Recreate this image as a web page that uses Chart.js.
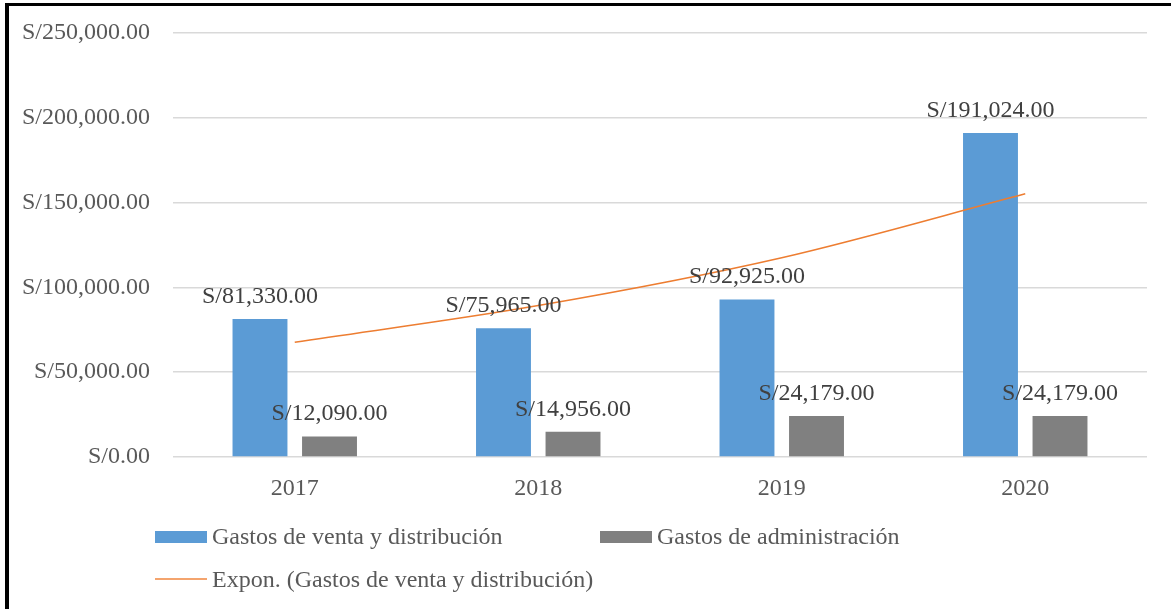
<!DOCTYPE html>
<html>
<head>
<meta charset="utf-8">
<script src="https://cdn.jsdelivr.net/npm/chart.js@4"></script>
<style>
  html, body { margin: 0; padding: 0; background: #fff; }
  #wrap { position: relative; width: 1171px; height: 609px; overflow: hidden; }
  #frame { position: absolute; left: 5px; top: 3px; right: -10px; bottom: -10px;
           border-left: 4px solid #000; border-top: 3px solid #000; pointer-events: none; }
  .legend-item { position: absolute; height: 24px; line-height: 24px; white-space: nowrap;
                 font: 24px "Liberation Serif", "Times New Roman", serif; color: #595959; }
  .legend-item .swatch { position: absolute; left: 0; width: 52px; }
  .legend-item span.txt { position: absolute; left: 57px; }
</style>
</head>
<body>
<div id="wrap">
  <canvas id="chart" width="1171" height="609"></canvas>
  <div id="frame"></div>
  <div id="legend"></div>
</div>
<script>
const years = ['2017', '2018', '2019', '2020'];
const ventaDistribucion = [81330, 75965, 92925, 191024];
const administracion = [12090, 14956, 24179, 24179];
// at each year
const exponVenta = [67700, 89300, 117500, 155200];
const yTicks = [0, 50000, 100000, 150000, 200000, 250000];

const labelVenta = 'Gastos de venta y distribución';
const labelAdmin = 'Gastos de administración';
const labelExpon = 'Expon. (Gastos de venta y distribución)';

const FONT = '"Liberation Serif", "Times New Roman", serif';

function money(v) {
  return 'S/' + v.toLocaleString('en-US', { minimumFractionDigits: 2, maximumFractionDigits: 2 });
}

const barLabels = {
  id: 'barLabels',
  afterDatasetsDraw(chart) {
    const ctx = chart.ctx;
    ctx.save();
    ctx.font = '24px ' + FONT;
    ctx.fillStyle = '#404040';
    ctx.textAlign = 'center';
    ctx.textBaseline = 'alphabetic';
    chart.data.datasets.forEach((ds, i) => {
      if (ds.type !== 'bar') return;
      chart.getDatasetMeta(i).data.forEach((bar, j) => {
        ctx.fillText(money(ds.data[j]), bar.x, bar.y - 16);
      });
    });
    ctx.restore();
  }
};

const chart = new Chart(document.getElementById('chart'), {
  data: {
    labels: years,
    datasets: [
      {
        type: 'line',
        label: labelExpon,
        data: exponVenta,
        borderColor: '#ED7D31',
        borderWidth: 1.5,
        pointRadius: 0,
        cubicInterpolationMode: 'monotone',
        order: 0
      },
      {
        type: 'bar',
        label: labelVenta,
        data: ventaDistribucion,
        backgroundColor: '#5B9BD5',
        categoryPercentage: 0.571,
        barPercentage: 0.79,
        order: 1
      },
      {
        type: 'bar',
        label: labelAdmin,
        data: administracion,
        backgroundColor: '#808080',
        categoryPercentage: 0.571,
        barPercentage: 0.79,
        order: 1
      }
    ]
  },
  options: {
    responsive: false,
    animation: false,
    layout: { padding: { left: 0, right: 24, top: 33, bottom: 0 } },
    plugins: {
      legend: { display: false },
      tooltip: { enabled: false }
    },
    scales: {
      x: {
        offset: true,
        grid: { display: false, drawTicks: false },
        border: { display: false },
        ticks: { color: '#595959', font: { family: FONT, size: 24 }, padding: 17 },
        afterFit(scale) { scale.height = 152; }
      },
      y: {
        min: 0,
        max: 250000,
        afterBuildTicks(scale) { scale.ticks = yTicks.map(v => ({ value: v })); },
        grid: { color: '#D9D9D9', lineWidth: 1.5, drawTicks: false },
        border: { display: false },
        ticks: {
          color: '#595959',
          font: { family: FONT, size: 24 },
          padding: 23,
          callback: v => money(v)
        },
        afterFit(scale) {
          scale.width = 173;
          // tick padding would otherwise push the plot area down
          scale.paddingTop = 0;
          scale.paddingBottom = 0;
        }
      }
    }
  },
  plugins: [barLabels]
});

// legend built from the chart's datasets
const legend = document.getElementById('legend');
const spots = {
  [labelVenta]: [155, 523],
  [labelAdmin]: [600, 523],
  [labelExpon]: [155, 566]
};
chart.data.datasets.forEach(ds => {
  const pos = spots[ds.label];
  const item = document.createElement('div');
  item.className = 'legend-item';
  item.style.left = pos[0] + 'px';
  item.style.top = pos[1] + 'px';
  const sw = document.createElement('div');
  sw.className = 'swatch';
  if (ds.type === 'bar') {
    sw.style.top = '8px';
    sw.style.height = '12px';
    sw.style.background = ds.backgroundColor;
  } else {
    sw.style.top = '12px';
    sw.style.height = '2px';
    sw.style.background = '#F4A46E';
  }
  const txt = document.createElement('span');
  txt.className = 'txt';
  txt.textContent = ds.label;
  item.appendChild(sw);
  item.appendChild(txt);
  legend.appendChild(item);
});
</script>
</body>
</html>
